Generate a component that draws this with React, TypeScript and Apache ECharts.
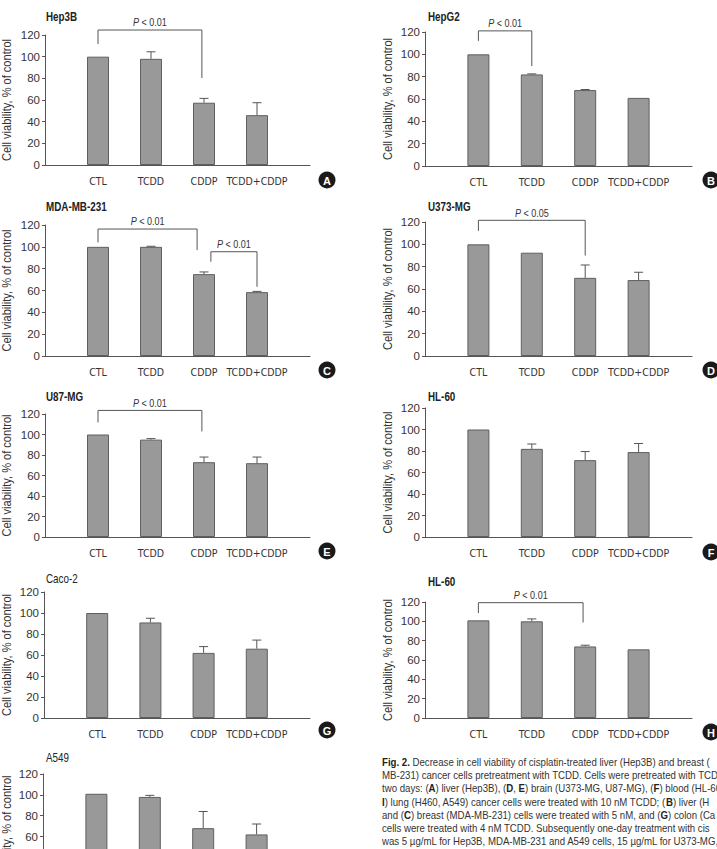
import React, { useEffect, useRef } from 'react';
import * as echarts from 'echarts';

// ---------- DATA ----------
const categories = ['CTL', 'TCDD', 'CDDP', 'TCDD+CDDP'];
const panelTitles = ['Hep3B', 'HepG2', 'MDA-MB-231', 'U373-MG', 'U87-MG', 'HL-60', 'Caco-2', 'HL-60', 'A549'];
const panelBadges = ['A', 'B', 'C', 'D', 'E', 'F', 'G', 'H', ''];
const yMin = 0;
const yMax = 120;
const yStep = 20;

const hep3bMeans = [100, 98, 57.5, 46];
const hep3bErrors = [0, 6.5, 4, 11.5];
const hepg2Means = [100, 82, 68, 61];
const hepg2Errors = [0, 0.5, 0.5, 0];
const mdaMeans = [100, 100, 75, 58.5];
const mdaErrors = [0, 0.5, 2, 0.7];
const u373Means = [100, 92.5, 70, 68];
const u373Errors = [0, 0, 11.5, 7];
const u87Means = [100, 95, 73, 72];
const u87Errors = [0, 1, 5, 6];
const hl60Means = [100, 82, 71.5, 79];
const hl60Errors = [0, 4.5, 8, 8];
const caco2Means = [100, 91, 62, 66];
const caco2Errors = [0, 4, 6, 8.2];
const hl60bMeans = [101, 100, 74, 71];
const hl60bErrors = [0, 2.5, 1.3, 0];
const a549Means = [101, 98, 68, 62];
const a549Errors = [0, 1.5, 16, 10];

// brackets: [xLeft, xRight, yLeftEnd, yRightEnd, yTop] in data units
const hep3bBrackets = [[0, 1.96, 111.7, 80.3, 124.6]];
const hep3bP = ['< 0.01'];
const hepg2Brackets = [[0, 1, 112, 89.5, 121]];
const hepg2P = ['< 0.01'];
const mdaBrackets = [[0, 1.87, 104, 97, 116.3], [2.13, 3, 86.3, 63.4, 95.5]];
const mdaP = ['< 0.01', '< 0.01'];
const u373Brackets = [[0, 2, 112, 90, 121.5]];
const u373P = ['< 0.05'];
const u87Brackets = [[0, 1.96, 111.8, 103, 123.5]];
const u87P = ['< 0.01'];
const hl60bBrackets = [[0, 1.96, 108.6, 98.8, 119.3]];
const hl60bP = ['< 0.01'];

const panelMeans = [hep3bMeans, hepg2Means, mdaMeans, u373Means, u87Means, hl60Means, caco2Means, hl60bMeans, a549Means];
const panelErrors = [hep3bErrors, hepg2Errors, mdaErrors, u373Errors, u87Errors, hl60Errors, caco2Errors, hl60bErrors, a549Errors];
const panelBrackets = [hep3bBrackets, hepg2Brackets, mdaBrackets, u373Brackets, u87Brackets, [], [], hl60bBrackets, []];
const panelP = [hep3bP, hepg2P, mdaP, u373P, u87P, [], [], hl60bP, []];

const yAxisName = 'Cell viability, % of control';

// caption as visible in the figure (it runs past the right edge)
const captionLines = [
  '{b|Fig. 2.} Decrease in cell viability of cisplatin-treated liver (Hep3B) and breast (',
  'MB-231) cancer cells pretreatment with TCDD. Cells were pretreated with TCD',
  'two days: ({b|A}) liver (Hep3B), ({b|D}, {b|E}) brain (U373-MG, U87-MG), ({b|F}) blood (HL-60) a',
  '{b|I}) lung (H460, A549) cancer cells were treated with 10 nM TCDD; ({b|B}) liver (H',
  'and ({b|C}) breast (MDA-MB-231) cells were treated with 5 nM, and ({b|G}) colon (Ca',
  'cells were treated with 4 nM TCDD. Subsequently one-day treatment with cis',
  'was 5 \u00b5g/mL for Hep3B, MDA-MB-231 and A549 cells, 15 \u00b5g/mL for U373-MG,',
];

// ---------- LAYOUT ----------
const grids = [
  { left: 45, top: 35, width: 265, height: 130 },
  { left: 425, top: 32, width: 267, height: 134 },
  { left: 45, top: 225, width: 265, height: 131 },
  { left: 425, top: 222, width: 267, height: 134 },
  { left: 45, top: 414, width: 265, height: 123 },
  { left: 425, top: 408, width: 267, height: 129 },
  { left: 44, top: 592, width: 266, height: 126 },
  { left: 425, top: 602, width: 267, height: 116 },
  { left: 43, top: 774, width: 267, height: 125 },
];
const titlePos = [[46, 17], [428, 17], [46, 207], [428, 207], [46, 397], [428, 397], [46, 579], [428, 582], [46, 758]];
const titleBold = [true, true, true, true, true, true, false, true, false];
const badgePos = [[327, 180], [711, 180], [327, 370], [711, 370], [327, 551], [711, 552], [327, 730], [711, 732]];
const yNameX = [6.5, 388, 6.5, 388, 6.5, 388, 6.5, 388, 6.5];

const FR = "'Liberation Sans', Arial, sans-serif";
const FC = "'DejaVu Sans Condensed', 'Liberation Sans Narrow', sans-serif";
const NARROW = 0.82;
const CAPTION_SCALE = 0.91;
const AX = '#555';
const TXT = '#333';

export default function App() {
  const ref = useRef<HTMLDivElement>(null);
  useEffect(() => {
    if (!ref.current) return;
    const chart = echarts.init(ref.current, undefined, { renderer: 'svg' });

    const xAxes: any[] = [];
    const yAxes: any[] = [];
    const series: any[] = [];
    const graphics: any[] = [];

    grids.forEach((g, i) => {
      xAxes.push({
        type: 'value', gridIndex: i, min: -1, max: 4, interval: 1,
        axisLine: { show: true, onZero: false, lineStyle: { color: AX, width: 1 } },
        axisTick: { show: false }, splitLine: { show: false },
        axisLabel: {
          margin: 10, fontSize: 10.5, fontFamily: FC, color: TXT,
          formatter: (v: number) => (categories[v] !== undefined ? categories[v] : ''),
        },
      });
      yAxes.push({
        type: 'value', gridIndex: i, min: yMin, max: yMax, interval: yStep,
        axisLine: { show: true, onZero: false, lineStyle: { color: AX, width: 1 } },
        axisTick: { show: true, length: 3, lineStyle: { color: AX } },
        splitLine: { show: false },
        axisLabel: { margin: 5, fontSize: 11.5, fontFamily: FR, color: TXT },
      });
      series.push({
        type: 'bar', xAxisIndex: i, yAxisIndex: i, silent: true, barWidth: 22,
        data: panelMeans[i].map((v, j) => [j, v]),
        itemStyle: { color: '#999999', borderColor: '#5f5f5f', borderWidth: 1 },
      });
      series.push({
        type: 'custom', xAxisIndex: i, yAxisIndex: i, silent: true, clip: false, z: 3,
        data: panelMeans[i].map((v, j) => [j, v, panelErrors[i][j]]),
        renderItem: (params: any, api: any) => {
          const x = api.value(0), m = api.value(1), e = api.value(2);
          if (!e) return { type: 'group', children: [] };
          const b = api.coord([x, m]);
          const t = api.coord([x, m + e]);
          return {
            type: 'group',
            children: [
              { type: 'line', shape: { x1: b[0], y1: b[1], x2: t[0], y2: t[1] }, style: { stroke: AX, lineWidth: 1 } },
              { type: 'line', shape: { x1: t[0] - 4.5, y1: t[1], x2: t[0] + 4.5, y2: t[1] }, style: { stroke: AX, lineWidth: 1 } },
            ],
          };
        },
      });
      if (panelBrackets[i].length) {
        const labels = panelP[i];
        series.push({
          type: 'custom', xAxisIndex: i, yAxisIndex: i, silent: true, clip: false, z: 4,
          data: panelBrackets[i],
          renderItem: (params: any, api: any) => {
            const xL = api.value(0), xR = api.value(1), yL = api.value(2), yR = api.value(3), yT = api.value(4);
            const a = api.coord([xL, yL]);
            const b = api.coord([xL, yT]);
            const c = api.coord([xR, yT]);
            const d = api.coord([xR, yR]);
            return {
              type: 'group',
              children: [
                { type: 'polyline', shape: { points: [a, b, c, d] }, style: { stroke: AX, lineWidth: 1, fill: 'none' } },
                {
                  type: 'text', x: (b[0] + c[0]) / 2, y: b[1] - 2, scaleX: NARROW,
                  style: {
                    text: '{i|P} ' + labels[params.dataIndex], align: 'center', verticalAlign: 'bottom',
                    fill: TXT, fontSize: 11, fontFamily: FR,
                    rich: { i: { fontStyle: 'italic', fontSize: 11, fontFamily: FR, fill: TXT } },
                  },
                },
              ],
            };
          },
        });
      }
      graphics.push({
        type: 'text', x: titlePos[i][0], y: titlePos[i][1], scaleX: NARROW,
        style: { text: panelTitles[i], fontSize: 12, fontWeight: titleBold[i] ? 'bold' : 'normal', fontFamily: FR, fill: '#222', align: 'left', verticalAlign: 'middle' },
      });
      graphics.push({
        type: 'text', x: yNameX[i], y: g.top + g.height / 2, rotation: Math.PI / 2, scaleX: NARROW,
        style: { text: yAxisName, fontSize: 13.5, fontFamily: FR, fill: TXT, align: 'center', verticalAlign: 'middle' },
      });
      if (panelBadges[i]) {
        graphics.push({ type: 'circle', shape: { cx: badgePos[i][0], cy: badgePos[i][1], r: 8.5 }, style: { fill: '#1a1a1a' } });
        graphics.push({
          type: 'text', x: badgePos[i][0], y: badgePos[i][1] + 0.5,
          style: { text: panelBadges[i], fill: '#fff', fontWeight: 'bold', fontSize: 11, fontFamily: FR, align: 'center', verticalAlign: 'middle' },
        });
      }
    });

    captionLines.forEach((line, k) => {
      graphics.push({
        type: 'text', x: 382, y: 762 + k * 13.3, scaleX: CAPTION_SCALE,
        style: {
          text: line, fontSize: 10.6, fontFamily: FR, fill: TXT, align: 'left', verticalAlign: 'middle',
          rich: { b: { fontWeight: 'bold', fontSize: 10.6, fontFamily: FR, fill: '#222' } },
        },
      });
    });

    chart.setOption({
      animation: false,
      backgroundColor: '#fff',
      grid: grids.map((g) => ({ ...g, containLabel: false })),
      xAxis: xAxes,
      yAxis: yAxes,
      series,
      graphic: { elements: graphics },
    });
    return () => chart.dispose();
  }, []);
  return (
    <div style={{ position: 'absolute', left: 0, top: 0, width: 717, height: 849, overflow: 'hidden', background: '#fff' }}>
      <div ref={ref} style={{ width: 717, height: 920 }} />
    </div>
  );
}
